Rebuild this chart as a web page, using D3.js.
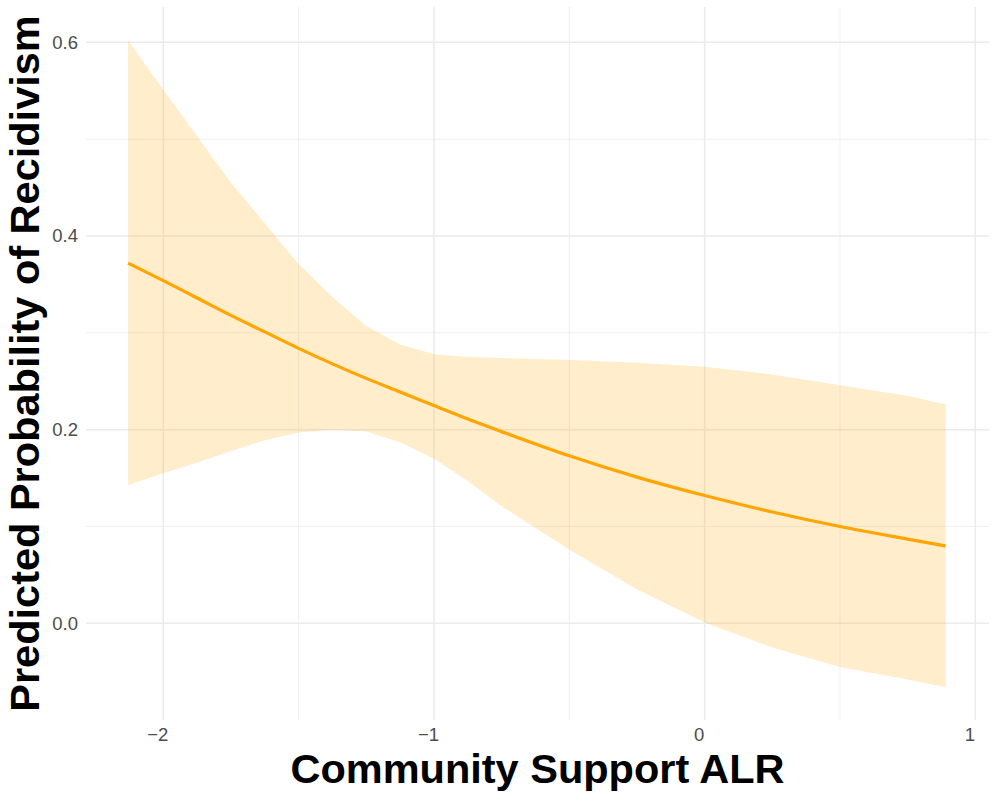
<!DOCTYPE html>
<html>
<head>
<meta charset="utf-8">
<script src="https://cdn.jsdelivr.net/npm/d3@7"></script>
<style>
  body { margin: 0; background: #fff; }
  svg { display: block; font-family: 'Liberation Sans', Arial, Helvetica, sans-serif; }
</style>
</head>
<body>
<div id="chart"></div>
<script>
// predicted values
const xs = [-2.13, -2.0, -1.875, -1.75, -1.625, -1.5, -1.375, -1.25, -1.125, -1.0,
  -0.875, -0.75, -0.5, -0.25, 0, 0.25, 0.5, 0.75, 0.89]
const predicted = [0.372, 0.354, 0.336, 0.318, 0.301, 0.284, 0.268, 0.253, 0.239, 0.225,
  0.211, 0.198, 0.173, 0.151, 0.132, 0.115, 0.100, 0.087, 0.080]
const upper = [0.602, 0.551, 0.503, 0.455, 0.413, 0.371, 0.337, 0.307, 0.288, 0.278,
  0.275, 0.274, 0.272, 0.269, 0.265, 0.257, 0.246, 0.235, 0.226]
const lower = [0.143, 0.155, 0.166, 0.178, 0.189, 0.197, 0.200, 0.198, 0.187, 0.170,
  0.147, 0.121, 0.076, 0.035, 0.001, -0.025, -0.045, -0.058, -0.066]

const xTicks = [-2, -1, 0, 1]
const xMinor = [-1.5, -0.5, 0.5]
const yTicks = [0, 0.2, 0.4, 0.6]
const yMinor = [0.1, 0.3, 0.5]

const width = 996
const height = 797
const margin = { top: 7, right: 7, bottom: 77, left: 86 }

const data = xs.map((x, i) => ({ x: x, y: predicted[i], lo: lower[i], hi: upper[i] }))

const svg = d3
  .select('#chart')
  .append('svg')
  .attr('width', width)
  .attr('height', height)

const x = d3.scaleLinear()
  .domain([-2.2856, 1.0506])
  .range([margin.left, width - margin.right])

const y = d3.scaleLinear()
  .domain([-0.0998, 0.6365])
  .range([height - margin.bottom, margin.top])

const grid = svg.append('g').attr('class', 'grid')

// minor gridlines
grid.selectAll('.ymin')
  .data(yMinor)
  .enter()
  .append('line')
  .attr('x1', margin.left)
  .attr('x2', width - margin.right)
  .attr('y1', d => y(d))
  .attr('y2', d => y(d))
  .attr('stroke', '#ebebeb')
  .attr('stroke-width', 0.8)

grid.selectAll('.xmin')
  .data(xMinor)
  .enter()
  .append('line')
  .attr('y1', margin.top)
  .attr('y2', height - margin.bottom)
  .attr('x1', d => x(d))
  .attr('x2', d => x(d))
  .attr('stroke', '#ebebeb')
  .attr('stroke-width', 0.8)

// major gridlines
grid.selectAll('.ymaj')
  .data(yTicks)
  .enter()
  .append('line')
  .attr('x1', margin.left)
  .attr('x2', width - margin.right)
  .attr('y1', d => y(d))
  .attr('y2', d => y(d))
  .attr('stroke', '#ebebeb')
  .attr('stroke-width', 1.5)

grid.selectAll('.xmaj')
  .data(xTicks)
  .enter()
  .append('line')
  .attr('y1', margin.top)
  .attr('y2', height - margin.bottom)
  .attr('x1', d => x(d))
  .attr('x2', d => x(d))
  .attr('stroke', '#ebebeb')
  .attr('stroke-width', 1.5)

// confidence band
const area = d3.area()
  .x(d => x(d.x))
  .y0(d => y(d.lo))
  .y1(d => y(d.hi))

svg.append('path')
  .datum(data)
  .attr('d', area)
  .attr('fill', '#ffa500')
  .attr('fill-opacity', 0.2)

const line = d3.line()
  .x(d => x(d.x))
  .y(d => y(d.y))
  .curve(d3.curveMonotoneX)

svg.append('path')
  .datum(data)
  .attr('d', line)
  .attr('fill', 'none')
  .attr('stroke', '#ffa500')
  .attr('stroke-width', 3.2)

// axes (labels only, like theme_minimal)
const xAxis = d3.axisBottom(x)
  .tickValues(xTicks)
  .tickSize(0)
  .tickPadding(8)
  .tickFormat(d => d3.format('d')(d).replace('-', '\u2212'))

const yAxis = d3.axisLeft(y)
  .tickValues(yTicks)
  .tickSize(0)
  .tickPadding(8)
  .tickFormat(d3.format('.1f'))

svg.append('g')
  .attr('transform', 'translate(0,' + (height - margin.bottom) + ')')
  .call(xAxis)
  .call(g => g.select('.domain').remove())
  .selectAll('text')
  .attr('dx', -6)
  .style('font-size', '18.5px')
  .style('font-family', "'Liberation Sans', Arial, sans-serif")
  .attr('fill', '#4d4d4d')

svg.append('g')
  .attr('transform', 'translate(' + margin.left + ',0)')
  .call(yAxis)
  .call(g => g.select('.domain').remove())
  .selectAll('text')
  .style('font-size', '18.5px')
  .style('font-family', "'Liberation Sans', Arial, sans-serif")
  .attr('fill', '#4d4d4d')

svg.append('text')
  .attr('x', (margin.left + width - margin.right) / 2)
  .attr('y', 783)
  .attr('text-anchor', 'middle')
  .style('font-size', '41.5px')
  .style('font-weight', 700)
  .attr('fill', '#000')
  .text('Community Support ALR')

svg.append('text')
  .attr('transform', 'translate(39,' + (margin.top + height - margin.bottom) / 2 + ') rotate(-90)')
  .attr('text-anchor', 'middle')
  .style('font-size', '41.5px')
  .style('font-weight', 700)
  .attr('fill', '#000')
  .text('Predicted Probability of Recidivism')
</script>
</body>
</html>
